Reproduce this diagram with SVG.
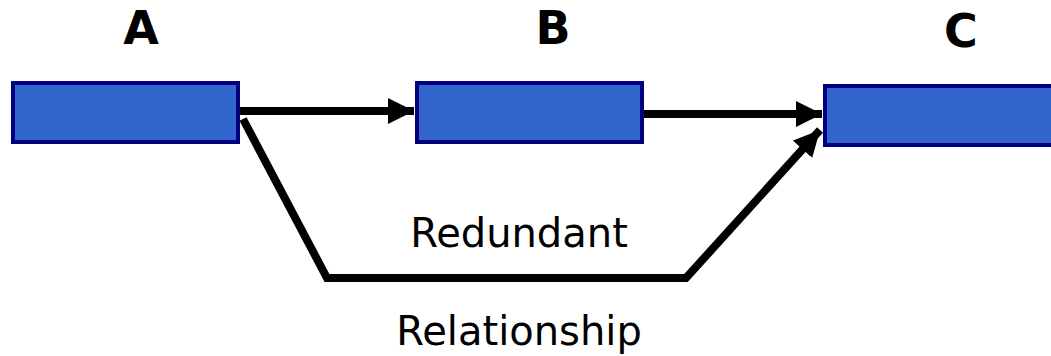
<svg xmlns="http://www.w3.org/2000/svg" width="1051" height="356" viewBox="0 0 1051 356">
  <style>
    .box { fill: #3366CC; stroke: #000080; stroke-width: 4; }
    .head { font-family: "DejaVu Sans", Verdana, sans-serif; font-weight: bold; font-size: 46px; fill: #000; text-anchor: middle; }
    .lbl { font-family: "DejaVu Sans", Verdana, sans-serif; font-size: 40px; fill: #000; text-anchor: middle; }
    .conn { fill: none; stroke: #000; stroke-width: 8; }
  </style>
  <defs>
    <marker id="arrow" viewBox="0 0 10 10" refX="10" refY="5" markerUnits="userSpaceOnUse" markerWidth="26" markerHeight="26" orient="auto">
      <path d="M0,0 L10,5 L0,10 Z" fill="#000"/>
    </marker>
  </defs>

  <g id="node-a">
    <text class="head" x="141" y="44">A</text>
    <rect class="box" x="13" y="83" width="225" height="59"/>
  </g>
  <g id="node-b">
    <text class="head" x="553" y="44">B</text>
    <rect class="box" x="417" y="83" width="225" height="59"/>
  </g>
  <g id="node-c">
    <text class="head" x="961" y="47">C</text>
    <rect class="box" x="825" y="86" width="228" height="59"/>
  </g>

  <g id="connectors">
    <line class="conn" x1="240" y1="111" x2="414" y2="111" marker-end="url(#arrow)"/>
    <line class="conn" x1="644" y1="114" x2="822" y2="114" marker-end="url(#arrow)"/>
    <polyline class="conn" points="243,119 327,278 686,278 820,130" marker-end="url(#arrow)"/>
  </g>

  <g id="labels">
    <text class="lbl" x="519" y="247">Redundant</text>
    <text class="lbl" x="519" y="345">Relationship</text>
  </g>
</svg>
